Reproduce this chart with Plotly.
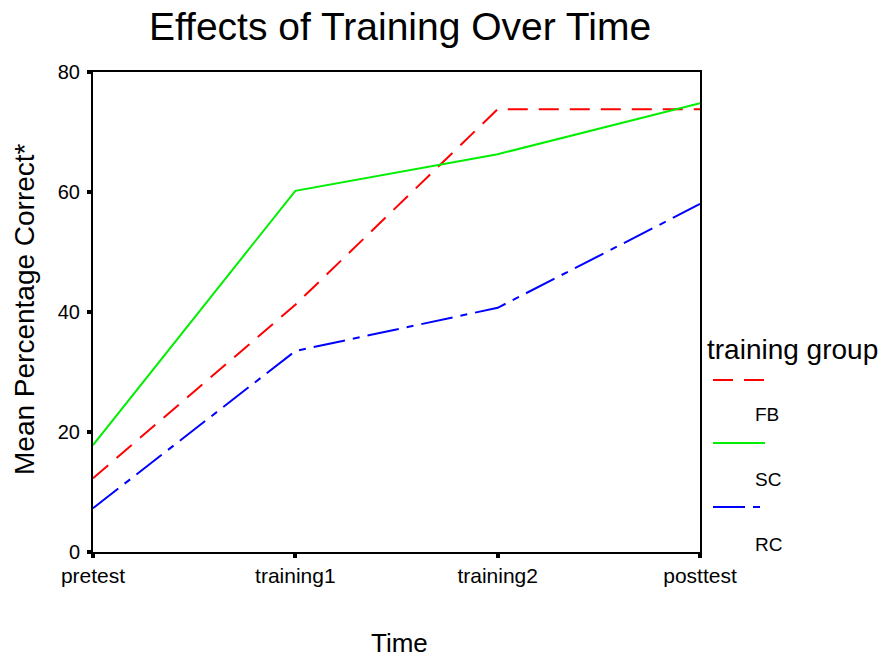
import plotly.graph_objects as go

# ---- data ----
time_points = ["pretest", "training1", "training2", "posttest"]
groups = ["FB", "SC", "RC"]
fb_values = [12.3, 41.2, 73.8, 73.8]
sc_values = [17.8, 60.2, 66.3, 74.8]
rc_values = [7.3, 33.5, 40.7, 58.0]
y_ticks = [0, 20, 40, 60, 80]

series_values = [fb_values, sc_values, rc_values]
colors = ["#ff0000", "#00ee00", "#0000ff"]
dashes = ["20px,11px", "solid", "32px,8px,7px,8px"]

OFF = 8  # page body margin
SW, SH = 888, 661          # screen size
L, R, T, B = 93, 700, 72, 552  # plot area in screen pixels
W, H = SW - OFF, SH - OFF

FONT = "Liberation Sans, Arial, sans-serif"

x_idx = list(range(len(time_points)))

fig = go.Figure()
for name, vals, c, d in zip(groups, series_values, colors, dashes):
    fig.add_trace(go.Scatter(x=x_idx, y=vals, mode="lines", name=name,
                             line=dict(color=c, width=2, dash=d),
                             showlegend=False, cliponaxis=False))

def px_x(p):
    return (p - L) / (R - L)

def px_y(p):
    return (B - p) / (B - T)

shapes = []
annotations = []
# axis titles
annotations.append(dict(text="Mean Percentage Correct*", x=px_x(24), y=px_y(309), xref="paper", yref="paper",
                        xanchor="center", yanchor="middle", textangle=-90, showarrow=False,
                        font=dict(family=FONT, size=28, color="#000")))
annotations.append(dict(text="Time", x=px_x(399), y=px_y(643), xref="paper", yref="paper",
                        xanchor="center", yanchor="middle", showarrow=False,
                        font=dict(family=FONT, size=26, color="#000")))
# legend
annotations.append(dict(text="training group", x=px_x(705), y=px_y(349), xref="paper", yref="paper",
                        xanchor="left", yanchor="middle", showarrow=False,
                        font=dict(family=FONT, size=28, color="#000")))
leg_line_y = [380, 443, 507]
leg_text_y = [414, 479, 544]
for name, c, d, ly, ty in zip(groups, colors, dashes, leg_line_y, leg_text_y):
    shapes.append(dict(type="line", xref="paper", yref="paper",
                       x0=px_x(713), x1=px_x(765), y0=px_y(ly), y1=px_y(ly),
                       line=dict(color=c, width=2, dash=d)))
    annotations.append(dict(text=name, x=px_x(753), y=px_y(ty), xref="paper", yref="paper",
                            xanchor="left", yanchor="middle", showarrow=False,
                            font=dict(family=FONT, size=19, color="#000")))

fig.update_layout(
    width=W, height=H,
    margin=dict(l=L - OFF, r=SW - R, t=T - OFF, b=SH - B, pad=0),
    paper_bgcolor="white", plot_bgcolor="white",
    title=dict(text="Effects of Training Over Time", x=px_x(400), xref="paper",
               xanchor="center", y=1 - (26 - OFF) / H, yref="container", yanchor="middle",
               font=dict(family=FONT, size=39, color="#000")),
    shapes=shapes, annotations=annotations,
    showlegend=False,
)
fig.update_xaxes(range=[0, 3], tickvals=x_idx, ticktext=time_points,
                 showgrid=False, zeroline=False,
                 showline=True, linecolor="black", linewidth=2, mirror=True,
                 ticks="outside", ticklen=4, tickwidth=4, tickcolor="black",
                 tickfont=dict(family=FONT, size=21, color="#000"))
fig.update_yaxes(range=[0, 80], tickvals=y_ticks,
                 showgrid=False, zeroline=False,
                 showline=True, linecolor="black", linewidth=2, mirror=True,
                 ticks="outside", ticklen=4, tickwidth=4, tickcolor="black",
                 ticklabelstandoff=3,
                 tickfont=dict(family=FONT, size=20, color="#000"))

fig.write_html("out.html")
